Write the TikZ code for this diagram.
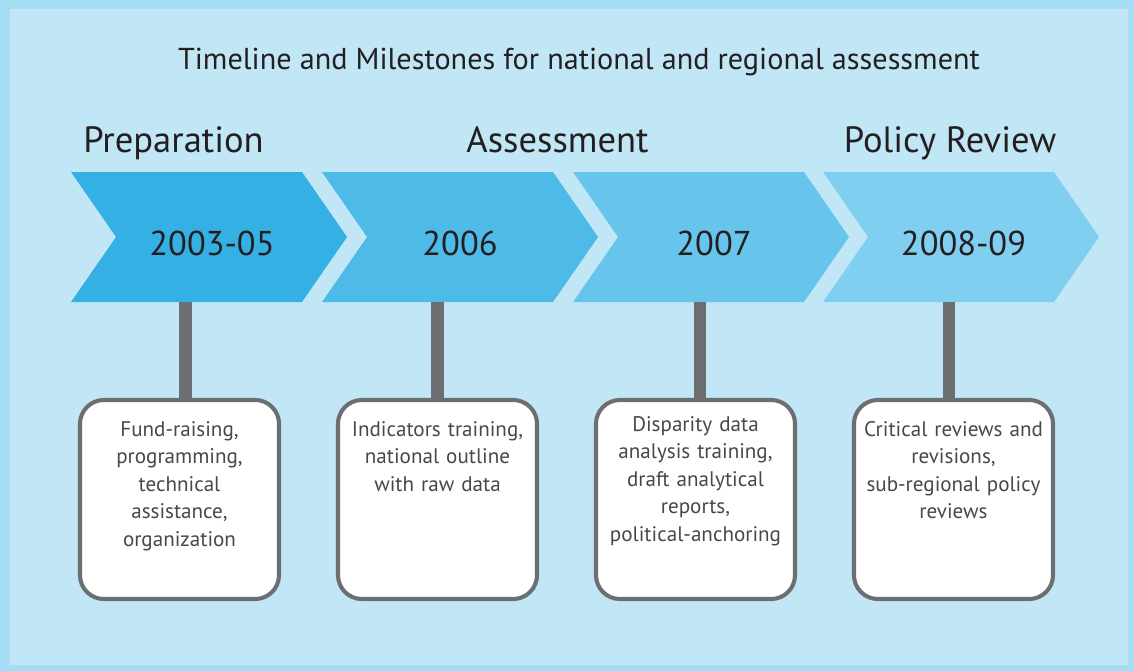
\documentclass[tikz,border=0pt]{standalone}
\usepackage{fontspec}
\setmainfont{PT Sans}
\usetikzlibrary{positioning}

\definecolor{frameblue}{HTML}{A6DCF4}
\definecolor{backblue}{HTML}{C1E7F7}
\definecolor{chevone}{HTML}{35B0E5}
\definecolor{chevtwo}{HTML}{4EBAE8}
\definecolor{chevthree}{HTML}{67C5EC}
\definecolor{chevfour}{HTML}{81CFF0}
\definecolor{stemgray}{HTML}{6D6E71}
\definecolor{inkblack}{HTML}{231F20}
\definecolor{boxink}{HTML}{48484A}

\tikzset{
  heading/.style={text=inkblack, inner sep=0pt, font=\fontsize{21.5}{26}\selectfont},
  phase/.style={text=inkblack, inner sep=0pt, anchor=base, font=\fontsize{26}{31}\selectfont},
  year/.style={text=inkblack, inner sep=0pt, anchor=base, font=\fontsize{24.5}{29}\selectfont},
  stem/.style={stemgray, line width=9.2pt},
  milestone/.style={draw=stemgray, line width=2.9pt, fill=white, rounded corners=17pt,
    minimum width=4.975cm, minimum height=4.975cm, inner sep=0pt},
  boxtext/.style={text=boxink, inner sep=0pt, align=center, text width=140pt,
    font=\fontsize{15}{19.5}\selectfont}
}

\begin{document}
\begin{tikzpicture}[x=0.025cm, y=-0.025cm]
\useasboundingbox (0,0) rectangle (1134,671);

% frame and background
\fill[frameblue] (0,0) rectangle (1134,671);
\fill[backblue] (10,9) rectangle (1128,665);

\node[heading, anchor=base] (title) at (579,69) {Timeline and Milestones for national and regional assessment};

% phases
\node[phase] (prep) at (173.5,152) {Preparation};
\node[phase] (assess) at (557.5,152) {Assessment};
\node[phase] (review) at (950,152) {Policy Review};

% chevrons
\fill[chevone] (71,172) -- (302,172) -- (347,237) -- (302,302) -- (71,302) -- (116,237) -- cycle;
\fill[chevtwo] (322,172) -- (553,172) -- (598,237) -- (553,302) -- (322,302) -- (367,237) -- cycle;
\fill[chevthree] (573,172) -- (804,172) -- (849,237) -- (804,302) -- (573,302) -- (618,237) -- cycle;
\fill[chevfour] (823,172) -- (1054,172) -- (1099,237) -- (1054,302) -- (823,302) -- (868,237) -- cycle;

\node[year] (y1) at (212,255) {2003-05};
\node[year] (y2) at (460,255) {2006};
\node[year] (y3) at (714,255) {2007};
\node[year] (y4) at (963.5,255) {2008-09};

% milestone boxes
\node[milestone] (box1) at (179.5,499.5) {};
\node[milestone] (box2) at (437.5,499.5) {};
\node[milestone] (box3) at (695.5,499.5) {};
\node[milestone] (box4) at (953.5,499.5) {};

% stems from chevrons down to boxes
\coordinate (s1) at (185.5,302);
\coordinate (s2) at (437.5,302);
\coordinate (s3) at (700,302);
\coordinate (s4) at (949,302);
\draw[stem] (s1) -- (s1 |- box1.north);
\draw[stem] (s2) -- (s2 |- box2.north);
\draw[stem] (s3) -- (s3 |- box3.north);
\draw[stem] (s4) -- (s4 |- box4.north);

\node[boxtext, below=16.5pt of box1.north] (t1) {Fund-raising,\\ programming,\\ technical\\ assistance,\\ organization};
\node[boxtext, below=16.5pt of box2.north] (t2) {Indicators training,\\ national outline\\ with raw data};
\node[boxtext, below=13pt of box3.north] (t3) {Disparity data\\ analysis training,\\ draft analytical\\ reports,\\ political-anchoring};
\node[boxtext, below=16.5pt of box4.north] (t4) {Critical reviews and\\ revisions,\\ sub-regional policy\\ reviews};
\end{tikzpicture}
\end{document}
